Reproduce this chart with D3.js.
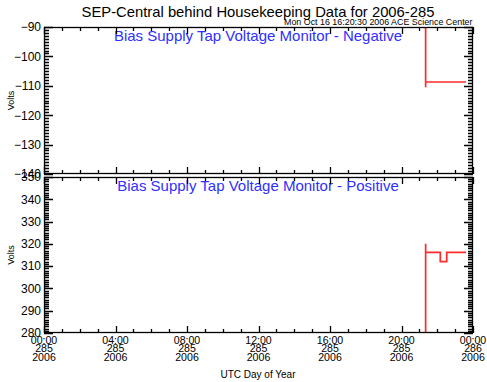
<!DOCTYPE html>
<html><head><meta charset="utf-8">
<script src="https://cdn.jsdelivr.net/npm/d3@7"></script>
<style>body{margin:0;background:#fff}svg{display:block}text{font-family:"Liberation Sans",Arial,sans-serif}</style>
</head><body><svg id="c" width="487" height="382"></svg>
<script>
const title = "SEP-Central behind Housekeeping Data for 2006-285";
const stamp = "Mon Oct 16 16:20:30 2006 ACE Science Center";
const panelTitles = ["Bias Supply Tap Voltage Monitor - Negative", "Bias Supply Tap Voltage Monitor - Positive"];
const xTickHours = [0, 4, 8, 12, 16, 20, 24];
const xTickTimes = ["00:00", "04:00", "08:00", "12:00", "16:00", "20:00", "00:00"];
const xTickDays = ["285", "285", "285", "285", "285", "285", "286"];
const xTickYears = ["2006", "2006", "2006", "2006", "2006", "2006", "2006"];
const negDomain = [-140, -90];
const posDomain = [280, 350];
const negTicks = [-140, -130, -120, -110, -100, -90];
const posTicks = [280, 290, 300, 310, 320, 330, 340, 350];
// step series: hours of day, value
const negHours = [21.35, 21.35, 21.35, 23.61];
const negValues = [0, -110.5, -108.7, -108.7];
const posHours = [21.35, 21.35, 21.35, 22.17, 22.17, 22.53, 22.53, 23.61];
const posValues = [0, 320, 316.2, 316.2, 312, 312, 316.2, 316.2];

const svg = d3.select("#c");
const L = 44, R = 473;
const x = d3.scaleLinear().domain([0, 24]).range([L, R]);
const panels = [
  {top: 27, bot: 174, dom: negDomain, ticks: negTicks, hrs: negHours, vals: negValues},
  {top: 177, bot: 333, dom: posDomain, ticks: posTicks, hrs: posHours, vals: posValues}
];

svg.append("text").attr("x", 258).attr("y", 17).attr("text-anchor", "middle")
  .attr("font-size", 14.8).text(title);
svg.append("text").attr("x", 472.5).attr("y", 24.5).attr("text-anchor", "end")
  .attr("font-size", 8.9).text(stamp);

const tickLayer = [];

panels.forEach((p, i) => {
  const y = d3.scaleLinear().domain(p.dom).range([p.bot, p.top]);
  const g = svg.append("g");
  const clipId = "clip" + i;
  svg.append("clipPath").attr("id", clipId).append("rect")
    .attr("x", L).attr("y", p.top).attr("width", R - L).attr("height", p.bot - p.top);
  const line = d3.line().x((d, k) => x(p.hrs[k])).y(d => y(d));
  g.append("path").attr("clip-path", `url(#${clipId})`).attr("d", line(p.vals))
    .attr("fill", "none").attr("stroke", "#ff2a2a").attr("stroke-width", 1.7);
  g.append("rect").attr("x", L + 0.5).attr("y", p.top + 0.5).attr("width", R - L - 1).attr("height", p.bot - p.top - 1)
    .attr("fill", "none").attr("stroke", "#000").attr("stroke-width", 1.3);
  const ax = g.append("g").attr("transform", `translate(${L},0)`)
    .call(d3.axisLeft(y).tickValues(p.ticks).tickSize(0).tickPadding(3));
  ax.select(".domain").remove();
  ax.selectAll("line").remove();
  ax.selectAll("text").attr("font-size", 12).attr("fill", "#000")
    .style("font-family", "'Liberation Sans', Arial, sans-serif")
    .text(d => String(d).replace("-", "\u2212"));
  g.append("text").attr("x", 258).attr("y", p.top + 13.5)
    .attr("text-anchor", "middle").attr("font-size", 15).attr("fill", "#3030ff").text(panelTitles[i]);
  const cy = (p.top + p.bot) / 2;
  g.append("text").attr("transform", `translate(13.5,${cy}) rotate(-90)`).attr("text-anchor", "middle")
    .attr("font-size", 9).text("Volts");

  // collect tick segments
  const minor = d3.range(p.dom[0], p.dom[1] + 0.5, 1);
  minor.forEach(v => {
    const yv = Math.round(y(v)) + 0.5;
    const len = p.ticks.includes(v) ? 9 : 5;
    tickLayer.push([L, yv, L + len, yv]);
    tickLayer.push([R - len, yv, R, yv]);
  });
  d3.range(0, 24.01, 1).forEach(h => {
    const xv = Math.round(x(h)) + 0.5;
    const len = xTickHours.includes(h) ? 7 : 4;
    tickLayer.push([xv, p.top, xv, p.top + len]);
    tickLayer.push([xv, p.bot - len, xv, p.bot]);
  });
});

svg.append("path")
  .attr("d", tickLayer.map(c => `M${c[0]},${c[1]}L${c[2]},${c[3]}`).join(""))
  .attr("fill", "none").attr("stroke", "black").attr("stroke-width", 1.3);

// x labels
const xl = svg.append("g");
xTickHours.forEach((h, k) => {
  [xTickTimes[k], xTickDays[k], xTickYears[k]].forEach((t, j) => {
    xl.append("text").attr("x", x(h)).attr("y", 343.5 + j * 8.7).attr("text-anchor", "middle")
      .attr("font-size", 10.6).text(t);
  });
});
svg.append("text").attr("x", 258).attr("y", 378).attr("text-anchor", "middle")
  .attr("font-size", 10).text("UTC Day of Year");
</script></body></html>
